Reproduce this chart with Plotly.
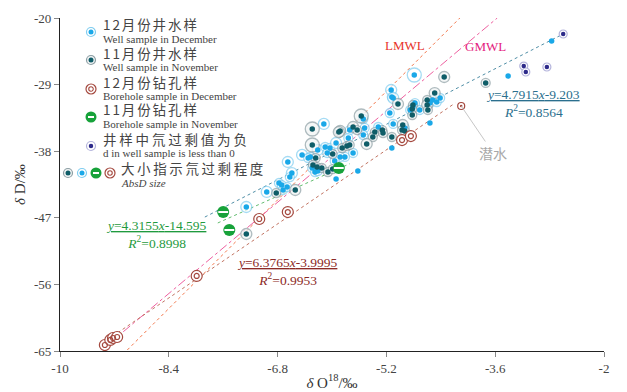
import plotly.graph_objects as go

# ---------------- data (δO18 ‰, δD ‰, AbsD level) ----------------
well_dec_x = [-4.79, -5.13, -5.12, -5.10, -2.77, -3.41, -4.52, -4.56, -4.46, -4.41,
              -4.78, -4.81, -4.85, -4.71, -5.15, -5.54, -5.52, -5.74, -5.32, -5.54,
              -5.10, -4.93, -4.56, -5.76, -5.12, -6.12, -6.44, -6.32, -6.21, -6.10,
              -6.03, -6.07, -5.94, -5.69, -5.81, -5.88, -5.96, -6.65, -6.59, -6.62,
              -6.78, -6.74, -6.72, -6.66, -6.96, -7.26, -6.29, -6.25, -6.21, -6.35,
              -5.94, -5.62]
well_dec_y = [-27.70, -29.73, -30.68, -30.81, -23.11, -27.84, -31.08, -31.49, -31.35, -30.81,
              -31.49, -32.03, -32.43, -32.43, -32.84, -33.65, -34.86, -35.14, -34.73, -35.81,
              -34.32, -34.86, -34.19, -36.22, -37.57, -34.32, -38.51, -38.78, -37.84, -37.43,
              -37.57, -38.24, -36.89, -38.24, -38.78, -38.78, -39.32, -39.46, -40.95, -41.49,
              -42.30, -42.57, -43.24, -42.84, -43.51, -45.54, -40.27, -40.81, -40.68, -38.92,
              -41.76, -40.68]
well_dec_lvl = [3, 2, 1, 2, 0, 0, 1, 1, 1, 1,
                1, 1, 1, 1, 1, 1, 1, 1, 1, 1,
                1, 1, 0, 1, 0, 2, 2, 1, 2, 1,
                1, 1, 2, 1, 1, 1, 1, 2, 2, 1,
                1, 1, 1, 1, 2, 2, 1, 1, 1, 1,
                0, 0]

well_nov_x = [-4.35, -3.74, -4.49, -4.60, -4.60, -4.59, -5.03, -4.81, -4.82, -4.82,
              -5.57, -5.69, -5.63, -5.88, -5.37, -5.40, -5.26, -5.25, -4.96, -4.97,
              -4.93, -5.12, -5.49, -6.29, -6.29, -5.90, -5.85, -5.78, -5.74, -5.99,
              -6.24, -6.28, -6.22, -6.15, -6.06, -5.99, -6.54, -6.82, -7.26]
well_nov_y = [-27.97, -28.78, -30.14, -31.08, -31.76, -32.43, -31.62, -31.76, -32.30, -33.11,
              -33.24, -34.73, -35.14, -35.27, -35.41, -36.08, -35.14, -35.54, -34.46, -35.14,
              -35.27, -36.08, -37.03, -35.00, -37.16, -35.41, -37.57, -37.30, -37.16, -38.38,
              -38.92, -39.86, -40.14, -40.27, -40.81, -40.41, -43.24, -43.65, -49.19]
well_nov_lvl = [2, 1, 2, 1, 2, 1, 2, 1, 1, 1,
                3, 2, 1, 2, 1, 1, 1, 1, 2, 1,
                1, 1, 2, 3, 3, 2, 1, 1, 1, 1,
                1, 1, 1, 1, 1, 1, 2, 1, 2]

bore_nov_x = [-5.90, -7.60, -7.51]
bore_nov_y = [-40.27, -46.22, -48.65]

bore_dec_x = [-4.97, -4.84, -6.65, -7.07, -7.99, -9.34, -9.26, -9.22, -9.16]
bore_dec_y = [-36.49, -35.95, -46.22, -47.16, -54.86, -64.19, -63.51, -63.24, -63.11]

phreatic_x = [-4.10]
phreatic_y = [-31.89]

neg_d_x = [-2.60, -3.18, -3.15, -2.84]
neg_d_y = [-22.16, -26.49, -27.30, -26.62]

# lines (end points)
lmwl_x = [-9.01, -4.12]
lmwl_y = [-64.86, -20.0]
gmwl_x = [-9.07, -3.57]
gmwl_y = [-62.4, -20.0]
fit_well_x = [-7.87, -2.60]
fit_well_y = [-46.9, -22.16]
fit_bnov_x = [-7.68, -5.74]
fit_bnov_y = [-47.7, -39.7]
fit_bdec_x = [-9.37, -4.19]
fit_bdec_y = [-63.9, -31.5]

x_ticks = [-10, -8.4, -6.8, -5.2, -3.6, -2]
x_tick_text = ["-10", "-8.4", "-6.8", "-5.2", "-3.6", "-2"]
y_ticks = [-20, -29, -38, -47, -56, -65]
y_tick_text = ["-20", "-29", "-38", "-47", "-56", "-65"]

legend_cn = ["12月份井水样", "11月份井水样", "12月份钻孔样", "11月份钻孔样", "井样中氘过剩值为负"]
legend_en = ["Well sample in December", "Well sample in November", "Borehole sample in December",
             "Borehole sample in November", "d in well sample is less than 0"]
size_key_cn = "大小指示氘过剩程度"
size_key_en = "AbsD size"

# ---------------- styling ----------------
LB = "#1aa8e8"; LB_RING = "#7fcdf0"
TEAL = "#0f5d68"; TEAL_RING = "#8d9fa4"
BROWN = "#a4483e"
GREEN = "#17a23a"
NAVY = "#2d2a8a"; NAVY_RING = "#b4b4dc"
RING = {0: 0, 1: 9, 2: 11, 3: 14}
SERIF = "Liberation Serif"
CJK = "Noto Sans CJK SC"
TXT = "#444444"

W, H = 627, 392
ML, MR, MT, MB = 60, 23, 18, 41
def pxx(p):  # pixel -> paper (layout positioning only)
    return (p - ML) / (W - ML - MR)
def pxy(p):
    return (H - MB - p) / (H - MT - MB)

fig = go.Figure()

def line(x, y, color, dash):
    fig.add_trace(go.Scatter(x=x, y=y, mode="lines", line=dict(color=color, width=1, dash=dash),
                             showlegend=False, hoverinfo="skip"))

line(lmwl_x, lmwl_y, "#f3764a", "dot")
line(gmwl_x, gmwl_y, "#ee5f9f", "dashdot")
line(fit_well_x, fit_well_y, "#4f8ea6", "dot")
line(fit_bnov_x, fit_bnov_y, "#62bd6f", "dot")
line(fit_bdec_x, fit_bdec_y, "#c27462", "dot")

def rings(x, y, lvl, color, fill):
    fig.add_trace(go.Scatter(x=x, y=y, mode="markers",
                             marker=dict(size=[RING[l] for l in lvl], color=fill,
                                         line=dict(color=color, width=1.3)),
                             showlegend=False, hoverinfo="skip"))

rings(well_dec_x, well_dec_y, well_dec_lvl, LB_RING, "white")
rings(well_nov_x, well_nov_y, well_nov_lvl, TEAL_RING, "#f1f4f5")

def dots(x, y, color, size):
    fig.add_trace(go.Scatter(x=x, y=y, mode="markers",
                             marker=dict(size=size, color=color, line=dict(width=0)),
                             showlegend=False, hoverinfo="skip"))

dots(well_dec_x, well_dec_y, LB, 5.5)
dots(well_nov_x, well_nov_y, TEAL, 5.5)

fig.add_trace(go.Scatter(x=neg_d_x, y=neg_d_y, mode="markers",
                         marker=dict(size=8, color="white", line=dict(color=NAVY_RING, width=1.2)),
                         showlegend=False, hoverinfo="skip"))
dots(neg_d_x, neg_d_y, NAVY, 4.5)

fig.add_trace(go.Scatter(x=bore_dec_x, y=bore_dec_y, mode="markers",
                         marker=dict(size=11, color="white", line=dict(color=BROWN, width=1.2)),
                         showlegend=False, hoverinfo="skip"))
fig.add_trace(go.Scatter(x=bore_dec_x, y=bore_dec_y, mode="markers",
                         marker=dict(size=5, symbol="circle-open", color=BROWN, line=dict(color=BROWN, width=1.2)),
                         showlegend=False, hoverinfo="skip"))
fig.add_trace(go.Scatter(x=phreatic_x, y=phreatic_y, mode="markers",
                         marker=dict(size=7, color="white", line=dict(color=BROWN, width=1.2)),
                         showlegend=False, hoverinfo="skip"))
dots(phreatic_x, phreatic_y, BROWN, 2.5)

fig.add_trace(go.Scatter(x=bore_nov_x, y=bore_nov_y, mode="markers",
                         marker=dict(size=12, color=GREEN, line=dict(width=0)),
                         showlegend=False, hoverinfo="skip"))
fig.add_trace(go.Scatter(x=bore_nov_x, y=bore_nov_y, mode="markers",
                         marker=dict(size=7, symbol="line-ew", line=dict(color="white", width=2)),
                         showlegend=False, hoverinfo="skip"))

# ---------------- annotations ----------------
ann = []
def eq(x, y, text, color):
    ann.append(dict(x=x, y=y, xref="x", yref="y", text=text, showarrow=False,
                    font=dict(family=SERIF, size=13.5, color=color), align="center"))

eq(-3.04, -31.6, "<u><i>y</i>=4.7915<i>x</i>-9.203</u><br><i>R</i><sup>2</sup>=0.8564", "#2b6f8e")
eq(-8.58, -49.3, "<u><i>y</i>=4.3155<i>x</i>-14.595</u><br><i>R</i><sup>2</sup>=0.8998", "#1f9a3e")
eq(-6.65, -54.26, "<u><i>y</i>=6.3765<i>x</i>-3.9995</u><br><i>R</i><sup>2</sup>=0.9953", "#8c2a26")
ann.append(dict(x=-4.93, y=-23.65, xref="x", yref="y", text="LMWL", showarrow=False,
                font=dict(family=SERIF, size=13, color="#e8332b")))
ann.append(dict(x=-3.74, y=-23.9, xref="x", yref="y", text="GMWL", showarrow=False,
                font=dict(family=SERIF, size=13, color="#e41c7e")))
ann.append(dict(x=phreatic_x[0], y=phreatic_y[0], xref="x", yref="y", text="潜水",
                showarrow=True, arrowhead=0, arrowwidth=0.8, arrowcolor="#b8b8b8",
                ax=32, ay=47, font=dict(family=CJK, size=14, color="#a8a8a8")))

# legend built from text + key symbols
leg_rows = [32, 60, 89, 117, 146]
leg_spacing = [1.9, 1.9, 1.9, 1.9, 2.8]
for i, (cn, en) in enumerate(zip(legend_cn, legend_en)):
    yk = leg_rows[i]
    ann.append(dict(x=pxx(102), y=pxy(yk - 7.5), xref="paper", yref="paper", xanchor="left",
                    yanchor="middle", showarrow=False, borderpad=0,
                    text=f"<span style='letter-spacing:{leg_spacing[i]}px'>{cn}</span>",
                    font=dict(family=CJK, size=13.5, color=TXT)))
    ann.append(dict(x=pxx(102), y=pxy(yk + 6.8), xref="paper", yref="paper", xanchor="left",
                    yanchor="middle", showarrow=False, text=en, borderpad=0,
                    font=dict(family=SERIF, size=11, color=TXT)))
ann.append(dict(x=pxx(120), y=pxy(168), xref="paper", yref="paper", xanchor="left",
                yanchor="middle", showarrow=False, borderpad=0,
                text=f"<span style='letter-spacing:2.6px'>{size_key_cn}</span>",
                font=dict(family=CJK, size=13.5, color=TXT)))
ann.append(dict(x=pxx(120), y=pxy(182.5), xref="paper", yref="paper", xanchor="left",
                yanchor="middle", showarrow=False, text="<i>" + size_key_en + "</i>", borderpad=0,
                font=dict(family=SERIF, size=11, color=TXT)))

def key_circle(xp, yp, d, fill, line_c, lw):
    return dict(type="circle", xref="paper", yref="paper", xsizemode="pixel", ysizemode="pixel",
                xanchor=pxx(xp), yanchor=pxy(yp), x0=-d / 2, x1=d / 2, y0=-d / 2, y1=d / 2,
                fillcolor=fill, line=dict(color=line_c, width=lw), layer="above")

def key_bar(xp, yp):
    return dict(type="line", xref="paper", yref="paper", xsizemode="pixel", ysizemode="pixel",
                xanchor=pxx(xp), yanchor=pxy(yp), x0=-3, x1=3, y0=0, y1=0,
                line=dict(color="white", width=2), layer="above")

def key(kind, xp, yp):
    if kind == "lb":
        return [key_circle(xp, yp, 9, "white", LB_RING, 1.2), key_circle(xp, yp, 5, LB, LB, 0)]
    if kind == "teal":
        return [key_circle(xp, yp, 9, "#f1f4f5", TEAL_RING, 1.2), key_circle(xp, yp, 5, TEAL, TEAL, 0)]
    if kind == "brown":
        return [key_circle(xp, yp, 10, "white", BROWN, 1.2), key_circle(xp, yp, 4.5, "white", BROWN, 1.1)]
    if kind == "green":
        return [key_circle(xp, yp, 11, GREEN, GREEN, 0), key_bar(xp, yp)]
    return [key_circle(xp, yp, 9, "white", NAVY_RING, 1.2), key_circle(xp, yp, 4.5, NAVY, NAVY, 0)]

shapes = []
for kind, yk in zip(["lb", "teal", "brown", "green", "navy"], leg_rows):
    shapes += key(kind, 91, yk)
for kind, xk in zip(["teal", "lb", "green", "brown"], [68, 82, 96, 110]):
    shapes += key(kind, xk, 173)

fig.update_layout(
    width=W, height=H,
    margin=dict(l=ML, r=MR, t=MT, b=MB),
    paper_bgcolor="white", plot_bgcolor="white",
    font=dict(family=SERIF, color=TXT),
    showlegend=False,
    annotations=ann,
    shapes=shapes,
    xaxis=dict(range=[-10, -2], tickvals=x_ticks, ticktext=x_tick_text, showgrid=False,
               zeroline=False, showline=True, linecolor="#222", linewidth=1.2,
               ticks="outside", ticklen=5, tickcolor="#888", automargin=False,
               tickfont=dict(family=SERIF, size=13, color="#444"),
               title=dict(text="<i>δ</i> O<sup>18</sup>/‰", font=dict(family=SERIF, size=15, color="#333"),
                          standoff=2)),
    yaxis=dict(range=[-65, -20], tickvals=y_ticks, ticktext=y_tick_text, showgrid=False,
               zeroline=False, showline=True, linecolor="#222", linewidth=1.2,
               ticks="outside", ticklen=5, tickcolor="#888", automargin=False,
               tickfont=dict(family=SERIF, size=13, color="#444"),
               title=dict(text="<i>δ</i> D/‰", font=dict(family=SERIF, size=15, color="#333"),
                          standoff=4)),
)

fig.write_html("out.html")
